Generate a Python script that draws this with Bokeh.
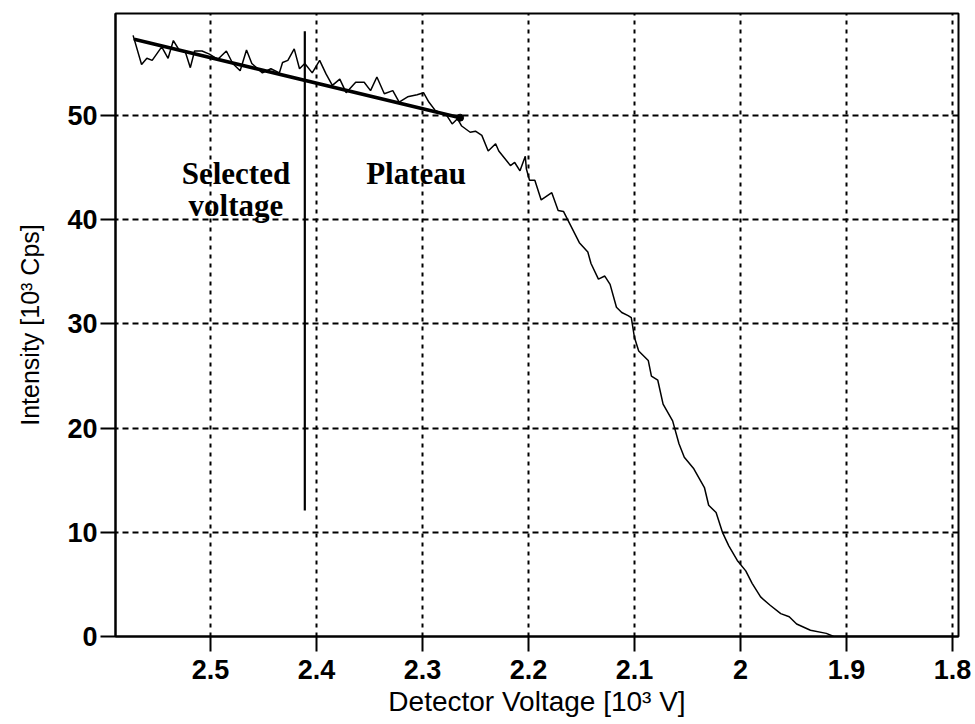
from bokeh.plotting import figure
from bokeh.models import Range1d, FixedTicker
from bokeh.core.properties import value
from bokeh.embed import file_html
from bokeh.resources import INLINE

# ---- data ----
voltage = [2.573, 2.565, 2.560, 2.555, 2.546, 2.540, 2.535, 2.529, 2.524, 2.519,
           2.515, 2.508, 2.501, 2.493, 2.485, 2.479, 2.472, 2.466, 2.461, 2.451,
           2.443, 2.435, 2.432, 2.427, 2.421, 2.416, 2.411, 2.404, 2.397, 2.391,
           2.385, 2.378, 2.372, 2.363, 2.355, 2.349, 2.343, 2.336, 2.328, 2.322,
           2.314, 2.305, 2.299, 2.294, 2.288, 2.277, 2.272, 2.267, 2.263, 2.255,
           2.250, 2.244, 2.238, 2.231, 2.228, 2.217, 2.213, 2.208, 2.203, 2.202,
           2.199, 2.194, 2.188, 2.178, 2.172, 2.167, 2.152, 2.144, 2.141, 2.134,
           2.128, 2.123, 2.117, 2.112, 2.106, 2.103, 2.100, 2.096, 2.087, 2.084,
           2.078, 2.073, 2.064, 2.058, 2.053, 2.044, 2.034, 2.030, 2.023, 2.017,
           2.011, 2.003, 1.995, 1.989, 1.981, 1.972, 1.962, 1.954, 1.947, 1.934,
           1.919, 1.912, 1.800]
intensity = [57.7, 54.9, 55.5, 55.3, 56.6, 55.5, 57.2, 56.2, 56.2, 54.6,
             56.2, 56.2, 55.9, 55.4, 56.2, 55.0, 54.3, 56.3, 55.0, 54.1,
             54.5, 54.1, 55.1, 55.3, 56.4, 54.5, 55.0, 54.1, 55.3, 54.0,
             52.9, 53.5, 52.2, 53.2, 53.2, 52.4, 53.7, 52.1, 52.4, 51.3,
             51.8, 52.0, 52.2, 51.3, 50.5, 50.0, 49.2, 49.7, 49.0, 48.4,
             48.5, 48.1, 46.6, 47.3, 46.6, 45.2, 45.5, 44.7, 46.1, 44.9,
             43.8, 43.8, 41.9, 42.6, 40.9, 40.8, 37.8, 36.9, 35.8, 34.3,
             34.6, 33.8, 31.6, 31.1, 30.8, 30.6, 28.7, 27.4, 26.5, 25.0,
             24.6, 22.3, 20.7, 18.5, 17.2, 16.1, 14.3, 12.6, 11.9, 10.0,
             8.7, 7.3, 6.3, 5.1, 3.8, 3.0, 2.2, 1.9, 1.2, 0.6,
             0.3, 0.0, 0.0]

fit_voltage = [2.571, 2.2645]
fit_intensity = [57.3, 49.8]

selected_voltage = 2.411
selected_span = [12.1, 58.1]

x_ticks = [2.5, 2.4, 2.3, 2.2, 2.1, 2.0, 1.9, 1.8]
x_tick_labels = ["2.5", "2.4", "2.3", "2.2", "2.1", "2", "1.9", "1.8"]
y_ticks = [0, 10, 20, 30, 40, 50]
y_tick_labels = ["0", "10", "20", "30", "40", "50"]

x_title = "Detector Voltage [10\u00b3 V]"
y_title = "Intensity [10\u00b3 Cps]"

# ---- figure ----
p = figure(width=975, height=724, output_backend="svg", toolbar_location=None,
           x_range=Range1d(2.5896, 1.7943), y_range=Range1d(0, 59.8),
           min_border_left=115, min_border_right=17, min_border_top=13,
           min_border_bottom=88)
p.background_fill_color = "white"
p.border_fill_color = "white"
p.outline_line_color = "black"
p.outline_line_width = 2

# grid
p.xgrid.ticker = FixedTicker(ticks=x_ticks)
p.ygrid.ticker = FixedTicker(ticks=y_ticks)
p.xgrid.grid_line_color = "black"
p.xgrid.grid_line_width = 2
p.xgrid.grid_line_dash = "4 5"
p.ygrid.grid_line_color = "black"
p.ygrid.grid_line_width = 2
p.ygrid.grid_line_dash = "6 4"

# axes
for ax, ticks, labels in ((p.xaxis[0], x_ticks, x_tick_labels),
                          (p.yaxis[0], y_ticks, y_tick_labels)):
    ax.ticker = FixedTicker(ticks=ticks)
    ax.major_label_overrides = {t: l for t, l in zip(ticks, labels)}
    ax.axis_line_color = "black"
    ax.axis_line_width = 2
    ax.major_tick_line_color = "black"
    ax.major_tick_line_width = 2
    ax.major_tick_out = 15
    ax.major_tick_in = 0
    ax.minor_tick_line_color = None
    ax.major_label_text_font = "Liberation Sans"
    ax.major_label_text_font_style = "bold"
    ax.major_label_text_font_size = "27px"
    ax.major_label_text_color = "black"
    ax.axis_label_text_font = "Liberation Sans"
    ax.axis_label_text_font_style = "normal"
    ax.axis_label_text_color = "black"

p.xaxis.axis_label = x_title
p.yaxis.axis_label = y_title
p.xaxis.axis_label_text_font_size = "28px"
p.yaxis.axis_label_text_font_size = "25px"
p.xaxis.major_label_standoff = 8
p.yaxis.major_label_standoff = 3
p.xaxis.axis_label_standoff = 4
p.yaxis.axis_label_standoff = 20

# data curve
p.line(voltage, intensity, line_color="black", line_width=1.5)

# plateau fit line
p.line(fit_voltage, fit_intensity, line_color="black", line_width=3.5, line_cap="round")
p.scatter([fit_voltage[-1]], [fit_intensity[-1]], size=7, color="black")

# selected voltage marker
p.line([selected_voltage, selected_voltage], selected_span, line_color="black", line_width=2.2)

# annotations
p.text(x=[2.476], y=[44.4], text=["Selected"], text_align="center",
       text_baseline="alphabetic", text_font=value("Liberation Serif"),
       text_font_style="bold", text_font_size="31px", text_color="black")
p.text(x=[2.476], y=[41.4], text=["voltage"], text_align="center",
       text_baseline="alphabetic", text_font=value("Liberation Serif"),
       text_font_style="bold", text_font_size="31px", text_color="black")
p.text(x=[2.306], y=[44.4], text=["Plateau"], text_align="center",
       text_baseline="alphabetic", text_font=value("Liberation Serif"),
       text_font_style="bold", text_font_size="31px", text_color="black")

open("out.html", "w").write(file_html(p, INLINE))
